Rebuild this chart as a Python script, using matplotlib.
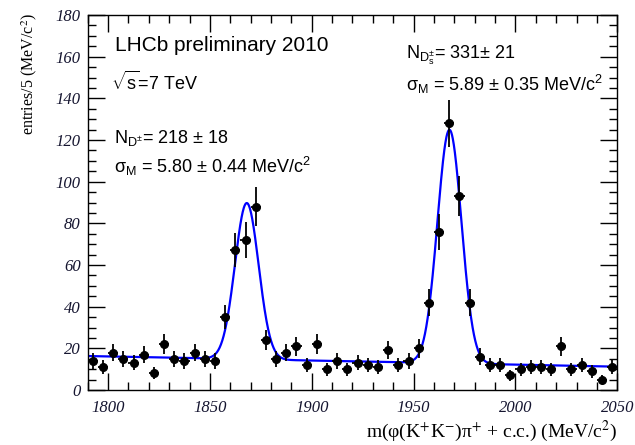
import numpy as np
import matplotlib
matplotlib.use("Agg")
import matplotlib.pyplot as plt
from matplotlib.ticker import MultipleLocator

# ---- data ----
bin_width = 5.0
bin_centers = np.arange(1792.5, 2050, 5.0)
counts = [14, 11, 18, 15, 13, 17, 8, 22, 15, 14, 18, 15, 14, 35, 67, 72, 88,
          24, 15, 18, 21, 12, 22, 10, 14, 10, 13, 12, 11, 19, 12, 14, 20, 42,
          76, 128, 93, 42, 16, 12, 12, 7, 10, 11, 11, 10, 21, 10, 12, 9, 5, 11]

# fit model parameters
bg_left, bg_right = 16.3, 11.2
n_dp, mean_dp, sigma_dp = 218, 1868.1, 5.80
n_ds, mean_ds, sigma_ds = 331, 1967.6, 5.89

xmin, xmax = 1790, 2050
ymin, ymax = 0, 180

plt.rcParams['mathtext.fontset'] = 'custom'
plt.rcParams['mathtext.rm'] = 'Liberation Sans'
plt.rcParams['mathtext.it'] = 'Liberation Sans:italic'
plt.rcParams['mathtext.bf'] = 'Liberation Sans:bold'

fig = plt.figure(figsize=(6.35, 4.45), dpi=100)
ax = fig.add_axes([87.7/635, 1-390/445, (617.3-87.7)/635, 375/445])

# fit curve
xf = np.linspace(xmin, xmax, 2000)
bg = bg_left + (bg_right - bg_left) * (xf - xmin) / (xmax - xmin)
def gaus(x, n, m, s):
    return n * bin_width / (np.sqrt(2*np.pi) * s) * np.exp(-0.5 * ((x - m) / s) ** 2)
yf = bg + gaus(xf, n_dp, mean_dp, sigma_dp) + gaus(xf, n_ds, mean_ds, sigma_ds)
ax.plot(xf, yf, color='#0000ff', lw=1.6, zorder=2)

counts_arr = np.array(counts, dtype=float)
ax.errorbar(bin_centers, counts_arr, yerr=np.sqrt(counts_arr), xerr=bin_width/2,
            fmt='o', color='black', ms=5.5, elinewidth=1.3, capsize=0, zorder=3)

ax.set_xlim(xmin, xmax)
ax.set_ylim(ymin, ymax)
ax.xaxis.set_major_locator(MultipleLocator(50))
ax.xaxis.set_minor_locator(MultipleLocator(10))
ax.yaxis.set_major_locator(MultipleLocator(20))
ax.yaxis.set_minor_locator(MultipleLocator(5))
ax.tick_params(which='both', direction='in', top=True, right=True, width=1.0, color='black')
ax.tick_params(which='major', length=12)
ax.tick_params(which='minor', length=6)
ax.tick_params(axis='x', pad=7)
ax.tick_params(axis='y', pad=5)
for lab in ax.get_xticklabels() + ax.get_yticklabels():
    lab.set_fontfamily('Liberation Serif')
    lab.set_fontstyle('italic')
    lab.set_fontsize(12)
    lab.set_color('#151530')
for sp in ax.spines.values():
    sp.set_linewidth(1.0)

ax.set_xlabel(r"m(φ(K$^{+}$K$^{-}$)π$^{+}$ + c.c.) (MeV/c$^{2}$)",
              fontfamily='Liberation Serif', fontsize=14, math_fontfamily='stix',
              loc='right')
ax.xaxis.set_label_coords(1.0, -0.078)
ax.set_ylabel(r"entries/5 (MeV/c$^{2}$)", fontfamily='Liberation Serif', fontsize=11.5,
              math_fontfamily='stix', loc='top')
ax.yaxis.set_label_coords(-0.092, 1.005)

tk = dict(fontfamily='Liberation Sans', fontsize=13, color='black', transform=ax.transData)
def px(xp, yp):
    # convert figure pixel to data coords
    xd = xmin + (xp - 87.7) / (617.3 - 87.7) * (xmax - xmin)
    yd = (390 - yp) / 375 * (ymax - ymin)
    return xd, yd

ax.text(*px(115, 45), "LHCb preliminary 2010", va='center', ha='left',
        **{**tk, 'fontsize': 15})
ax.text(*px(111, 82), r"$\sqrt{\mathrm{s}}$=7 TeV", va='center', ha='left', **tk)
ax.text(*px(114, 138), r"N$_{\mathrm{D^{\pm}}}$= 218 ± 18", va='center', ha='left', **tk)
ax.text(*px(114, 166), r"$\mathrm{\sigma_{M}}$ = 5.80 ± 0.44 MeV/c$^{2}$", va='center', ha='left', **tk)
ax.text(*px(406, 55), r"N$_{\mathrm{D_s^{\pm}}}$= 331± 21", va='center', ha='left', **tk)
ax.text(*px(406, 84), r"$\mathrm{\sigma_{M}}$ = 5.89 ± 0.35 MeV/c$^{2}$", va='center', ha='left', **tk)

fig.savefig("out.png", dpi=100)
